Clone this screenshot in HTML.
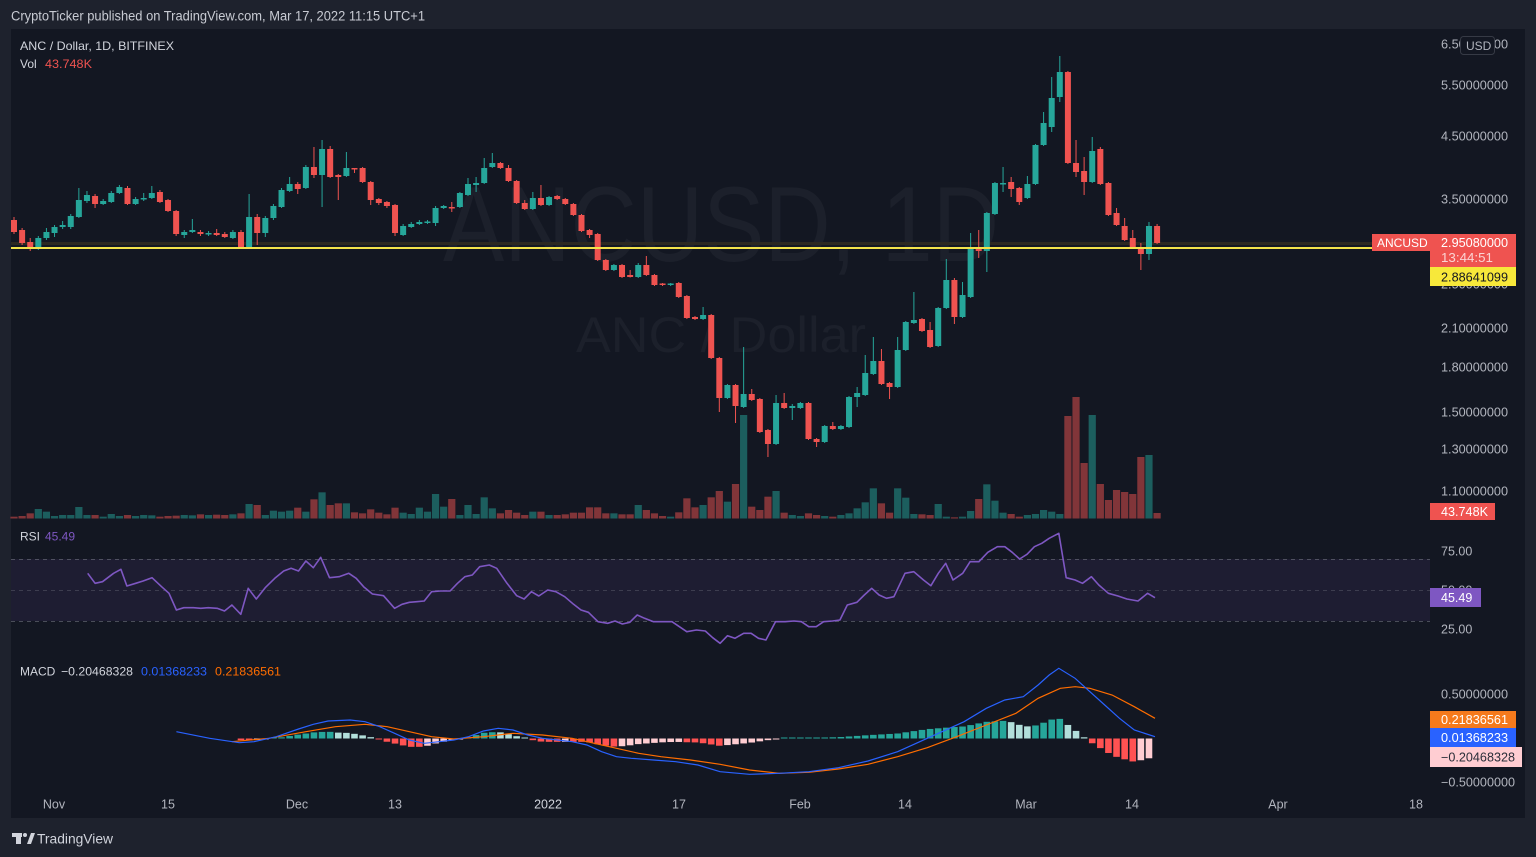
<!DOCTYPE html>
<html><head><meta charset="utf-8">
<style>
html,body{margin:0;padding:0;background:#1e222d;width:1536px;height:857px;overflow:hidden}
svg{display:block}
text{font-family:"Liberation Sans",Arial,sans-serif}
</style></head>
<body>
<svg id="s" width="1536" height="857" viewBox="0 0 1536 857" xmlns="http://www.w3.org/2000/svg">
<rect width="1536" height="857" fill="#1e222d"/>
<rect x="11" y="29" width="1514" height="789" fill="#131722"/>

<!-- watermark -->
<text x="443" y="261" font-size="107" fill="#1c202b" textLength="556" lengthAdjust="spacingAndGlyphs">ANCUSD, 1D</text>
<text x="576" y="352" font-size="50" fill="#1c202b" textLength="290" lengthAdjust="spacingAndGlyphs">ANC / Dollar</text>

<!-- RSI band -->
<rect x="11" y="559" width="1419" height="62" fill="#7e57c2" fill-opacity="0.1"/>
<line x1="11" x2="1430" y1="559.5" y2="559.5" stroke="#787b86" stroke-opacity="0.55" stroke-dasharray="4 4"/>
<line x1="11" x2="1430" y1="590.5" y2="590.5" stroke="#787b86" stroke-opacity="0.35" stroke-dasharray="4 4"/>
<line x1="11" x2="1430" y1="621.5" y2="621.5" stroke="#787b86" stroke-opacity="0.55" stroke-dasharray="4 4"/>

<g id="vol"></g>
<!-- last price line -->
<line x1="11" x2="1372" y1="243.5" y2="243.5" stroke="#2b2822" stroke-width="3"/>
<g id="cdl"></g>
<!-- yellow horizontal line -->
<line x1="11" x2="1372" y1="248" y2="248" stroke="#f2e24a" stroke-width="2"/>

<g id="rsi"></g>
<g id="macd"></g>

<!-- header -->
<text x="11" y="20.5" font-size="13.5" fill="#c8cbd3" textLength="414" lengthAdjust="spacingAndGlyphs">CryptoTicker published on TradingView.com, Mar 17, 2022 11:15 UTC+1</text>

<!-- legends -->
<text x="20" y="50" font-size="12" fill="#d1d4dc" textLength="154" lengthAdjust="spacingAndGlyphs">ANC / Dollar, 1D, BITFINEX</text>
<text x="20" y="68" font-size="12" fill="#d1d4dc">Vol</text>
<text x="45" y="68" font-size="12" fill="#ef5350" textLength="47" lengthAdjust="spacingAndGlyphs">43.748K</text>
<text x="20" y="540.5" font-size="12" fill="#d1d4dc">RSI</text>
<text x="45" y="540.5" font-size="12" fill="#7e57c2">45.49</text>
<text x="20" y="675.5" font-size="12" fill="#d1d4dc">MACD</text>
<text x="61" y="675.5" font-size="12" fill="#d1d4dc" textLength="72" lengthAdjust="spacingAndGlyphs">−0.20468328</text>
<text x="141" y="675.5" font-size="12" fill="#2962ff" textLength="66" lengthAdjust="spacingAndGlyphs">0.01368233</text>
<text x="215" y="675.5" font-size="12" fill="#ff6d00" textLength="66" lengthAdjust="spacingAndGlyphs">0.21836561</text>

<!-- price axis -->
<g font-size="12.5" fill="#b2b5be">
<text x="1441" y="48.5" textLength="67" lengthAdjust="spacingAndGlyphs">6.50000000</text>
<text x="1441" y="89.5" textLength="67" lengthAdjust="spacingAndGlyphs">5.50000000</text>
<text x="1441" y="140.5" textLength="67" lengthAdjust="spacingAndGlyphs">4.50000000</text>
<text x="1441" y="203.5" textLength="67" lengthAdjust="spacingAndGlyphs">3.50000000</text>
<text x="1441" y="288.5" textLength="67" lengthAdjust="spacingAndGlyphs">2.50000000</text>
<text x="1441" y="332.5" textLength="67" lengthAdjust="spacingAndGlyphs">2.10000000</text>
<text x="1441" y="371.5" textLength="67" lengthAdjust="spacingAndGlyphs">1.80000000</text>
<text x="1441" y="416.5" textLength="67" lengthAdjust="spacingAndGlyphs">1.50000000</text>
<text x="1441" y="453.5" textLength="67" lengthAdjust="spacingAndGlyphs">1.30000000</text>
<text x="1441" y="495.5" textLength="67" lengthAdjust="spacingAndGlyphs">1.10000000</text>
<text x="1441" y="555.5">75.00</text>
<text x="1441" y="594.5">50.00</text>
<text x="1441" y="633.5">25.00</text>
<text x="1441" y="698.5" textLength="67" lengthAdjust="spacingAndGlyphs">0.50000000</text>
<text x="1441" y="786.5" textLength="74" lengthAdjust="spacingAndGlyphs">−0.50000000</text>
</g>

<!-- USD box -->
<rect x="1460.5" y="36.5" width="34" height="18" rx="3" fill="#131722" stroke="#363a45"/>
<text x="1466" y="50" font-size="12" fill="#b2b5be">USD</text>

<!-- last price labels -->
<rect x="1372" y="234" width="58" height="17" fill="#ef5350"/>
<text x="1377" y="247" font-size="12" fill="#ffffff">ANCUSD</text>
<rect x="1430" y="234" width="86" height="33" fill="#ef5350"/>
<text x="1441" y="247" font-size="12.5" fill="#ffffff" textLength="67" lengthAdjust="spacingAndGlyphs">2.95080000</text>
<text x="1441" y="262" font-size="12.5" fill="#fbd3d2" textLength="52" lengthAdjust="spacingAndGlyphs">13:44:51</text>
<rect x="1430" y="267" width="86" height="19" fill="#f7e83a"/>
<text x="1441" y="281.5" font-size="12.5" fill="#131722" textLength="67" lengthAdjust="spacingAndGlyphs">2.88641099</text>

<rect x="1430" y="503" width="65" height="17" fill="#ef5350"/>
<text x="1441" y="516" font-size="12.5" fill="#ffffff" textLength="47" lengthAdjust="spacingAndGlyphs">43.748K</text>

<rect x="1430" y="588" width="51" height="19" fill="#7e57c2"/>
<text x="1441" y="602" font-size="12.5" fill="#ffffff">45.49</text>

<rect x="1430" y="711" width="86" height="17" fill="#f57a1c"/>
<text x="1441" y="724" font-size="12.5" fill="#ffffff" textLength="67" lengthAdjust="spacingAndGlyphs">0.21836561</text>
<rect x="1430" y="728" width="86" height="19" fill="#2962ff"/>
<text x="1441" y="742" font-size="12.5" fill="#ffffff" textLength="67" lengthAdjust="spacingAndGlyphs">0.01368233</text>
<rect x="1430" y="747" width="92" height="20" fill="#ffcdd2"/>
<text x="1441" y="761.5" font-size="12.5" fill="#2a2e39" textLength="74" lengthAdjust="spacingAndGlyphs">−0.20468328</text>

<!-- time axis -->
<g font-size="12.5" fill="#b2b5be" text-anchor="middle">
<text x="54" y="808.5">Nov</text>
<text x="168" y="808.5">15</text>
<text x="297" y="808.5">Dec</text>
<text x="395" y="808.5">13</text>
<text x="548" y="808.5" fill="#d1d4dc">2022</text>
<text x="679" y="808.5">17</text>
<text x="800" y="808.5">Feb</text>
<text x="905" y="808.5">14</text>
<text x="1026" y="808.5">Mar</text>
<text x="1132" y="808.5">14</text>
<text x="1278" y="808.5">Apr</text>
<text x="1416" y="808.5">18</text>
</g>

<!-- TradingView logo -->
<g fill="#d1d4dc">
<rect x="12" y="833" width="10" height="4"/>
<rect x="16" y="833" width="5" height="11"/>
<circle cx="25" cy="835" r="2"/>
<polygon points="27,844 31,833 35,833 31,844"/>
</g>
<text x="37" y="843.5" font-size="14" fill="#d1d4dc" textLength="76" lengthAdjust="spacingAndGlyphs">TradingView</text>
</svg>

<script>
(function(){
const ns="http://www.w3.org/2000/svg";
function el(tag,a,p){const e=document.createElementNS(ns,tag);for(const k in a)e.setAttribute(k,a[k]);p.appendChild(e);return e;}
const G="#26a69a",R="#ef5350";
const X=i=>14+8.107*i;
// [green?, bodyTop, bodyBot, wickTop, wickBot]
const C=[
[0,220,232,217,234],[0,230,243,228,245],[0,242,248,238,251],[1,238,248,236,250],[1,232,238,228,240],
[1,227,233,225,237],[1,225,227,221,229],[1,216,227,214,229],[1,200,217,188,218],[1,195,201,191,203],
[0,196,204,194,208],[1,201,204,199,205],[1,193,202,191,203],[1,187,193,185,194],[0,188,204,186,205],
[1,199,204,197,205],[1,198,199.5,193,201],[1,193,198,186,199],[0,192,202,190,203],[0,200,211,199,212],
[0,211,234,210,236],[1,232,235,230,238],[1,230,232,219,233],[0,232,234,230,236],[1,233,234.5,231,236],
[0,233,235,229,236],[0,234,237,232,238],[1,232,238,230,239],[0,232,247,230,248],[1,217,247,194,248],
[0,217,233,214,245],[1,218,233,216,237],[1,206,218,204,220],[1,190,207,188,208],[1,184,191,177,192],
[0,184,189,182,194],[1,167,188,165,189],[0,167,175,147,178],[1,149,175,140,207],[0,149,177,146,178],
[0,175,177,174,200],[1,168,176,152,177],[0,168,169.5,168,173],[0,168,182,167,183],[0,182,200,181,205],
[0,199,203,198,205],[0,202,206,201,208],[0,205,233,204,236],[1,226,235,224,236],[1,224,227,222,228],
[1,222,224,220,225],[1,221.5,223,220,224],[1,208,223,206,226],[1,206,208,205,209],[0,207,208.5,202,212],
[1,193,207,192,208],[1,184,195,178,196],[1,183,185,177,192],[1,168,183,158,184],[1,163,167,153,168],
[0,163,168,162,169],[0,168,181,165,182],[0,181,203,180,204],[0,203,209,200,210],[1,198,209,192,210],
[0,198,205,185,206],[1,197,205,196,206],[0,196,199,195,200],[0,199,204,198,205],[0,204,215,203,216],
[0,215,231,214,232],[0,230,235,229,238],[0,234,260,233,261],[0,260,270,259,271],[1,265,270,264,271],
[0,265,277,264,278],[0,275,277,270,277.5],[1,265,277,263,278],[0,265,275,256,276],[0,275,285,274,286],
[0,283.5,285,283,286],[1,283.5,285,283,286],[0,283,297,282,298],[0,296,318,295,319],[0,317,319,316,320],
[1,315,319,307,320],[0,315,358,314,359],[0,358,398,357,412],[1,385,398,384,399],[0,385,406,384,423],
[1,394,407,347,408],[0,394,400,389,401],[0,399,432,398,433],[0,430,444,429,457],[1,403,444,395,445],
[0,403,408,393,409],[1,406,408,404,420],[1,403,408,402,409],[0,403,439,402,440],[0,439,442,438,447],
[1,426,442,425,443],[0,426,429,422,430],[1,426,429,425,430],[1,397,427,396,428],[1,393,397,387,407],
[1,373,395,355,396],[1,361,374,337,375],[0,361,384,349,385],[0,383,387,382,399],[1,350,387,337,388],
[1,322,350,321,351],[1,320,323,292,324],[0,319,331,318,332],[0,330,347,322,348],[1,308,346,307,347],
[1,280,308,259,309],[0,280,317,278,324],[1,295,317,282,318],[1,249,297,233,298],[0,247,251,230,258],
[1,213,251,212,272],[1,183,214,182,215],[1,183,184,167,192],[0,182,189,177,197],[0,188,202,187,205],
[1,184,198,176,199],[1,145,184,144,185],[1,123,145,112,146],[1,98,127,77,132],[1,72,97,56,102],
[0,72,163,71,164],[0,163,172,140,177],[0,171,182,157,195],[1,151,182,137,183],[0,149,184,147,185],
[0,183,215,182,216],[0,213,225,208,226],[0,226,240,218,241],[0,238,247,230,248],[0,247,254,243,270],
[1,226,254,222,260],[0,226,243,224,244]
];
// volume tops in zoom units (real = 380 + v/3)
const V=[410,408,400,387,395,408,405,405,381,405,405,410,402,408,405,408,405,406,410,408,
407,405,406,403,405,404,405,403,400,372,375,405,392,395,392,383,395,358,337,375,
370,370,397,400,388,398,403,383,398,402,383,395,342,380,357,405,375,402,352,385,
400,390,398,405,395,395,405,405,403,398,398,382,382,400,400,403,403,375,390,400,
408,410,397,355,382,375,352,333,365,312,105,380,390,350,333,398,405,408,400,405,
408,410,405,400,385,367,325,370,398,325,353,402,403,405,372,410,412,410,393,357,
313,362,398,402,410,405,402,390,395,402,108,51,249,105,312,360,330,336,342,231,225,399];
const gv=document.getElementById('vol'),gc=document.getElementById('cdl');
const base=518.5;
C.forEach((c,i)=>{
  const x=X(i),col=c[0]?G:R;
  const vy=380+V[i]/3;
  el('rect',{x:(x-3.6).toFixed(2),y:vy.toFixed(2),width:7.2,height:Math.max(1,base-vy).toFixed(2),fill:col,'fill-opacity':0.5},gv);
  el('rect',{x:(x-0.5).toFixed(2),y:c[3],width:1,height:c[4]-c[3],fill:col},gc);
  el('rect',{x:(x-3).toFixed(2),y:c[1],width:6,height:Math.max(1.5,c[2]-c[1]),fill:col},gc);
});
function conv(arr){return arr.map(p=>[10+p[0]/1.352,525+p[1]/3]);}
const rsi=conv([[105,145],[115,175],[125,170],[140,145],[150,133],[158,183],[170,175],[180,168],[192,158],[205,185],[215,205],[225,255],[235,248],[248,248],[258,250],[268,248],[280,250],[290,258],[300,240],[312,268],[322,190],[333,222],[345,188],[358,160],[370,138],[380,130],[390,138],[400,108],[410,128],[420,97],[432,158],[445,155],[458,145],[468,160],[478,185],[490,207],[505,212],[520,250],[530,238],[540,232],[550,230],[560,228],[570,200],[582,198],[595,198],[605,175],[615,155],[625,150],[635,125],[648,120],[658,130],[672,175],[685,212],[695,222],[705,200],[715,213],[727,195],[738,200],[750,215],[762,238],[772,255],[782,262],[795,290],[808,295],[818,288],[828,297],[838,292],[848,270],[858,280],[870,290],[882,290],[895,290],[905,305],[915,320],[928,315],[940,318],[950,338],[960,355],[970,332],[980,340],[992,325],[1002,325],[1012,340],[1022,345],[1035,290],[1048,290],[1060,288],[1070,290],[1080,305],[1090,305],[1100,290],[1112,288],[1122,285],[1132,240],[1145,232],[1155,210],[1165,190],[1175,210],[1185,220],[1195,215],[1210,145],[1222,140],[1235,165],[1245,182],[1255,145],[1265,115],[1275,165],[1288,145],[1298,110],[1310,110],[1322,82],[1335,65],[1345,65],[1355,82],[1365,102],[1375,88],[1385,65],[1395,55],[1405,40],[1418,25],[1428,158],[1440,165],[1450,175],[1462,155],[1472,180],[1485,205],[1498,213],[1510,222],[1525,228],[1538,205],[1548,218]]);
const blue=conv([[225,620],[270,640],[310,653],[330,650],[360,635],[390,612],[410,598],[430,588],[460,585],[480,590],[500,605],[520,625],[540,645],[560,655],[580,650],[600,645],[620,635],[640,618],[660,610],[680,615],[700,630],[720,640],[740,645],[760,650],[780,660],[800,680],[820,695],[840,700],[870,705],[900,710],[930,720],[960,740],[1000,748],[1040,745],[1080,740],[1120,728],[1160,708],[1200,680],[1230,650],[1260,620],[1290,590],[1320,550],[1345,525],[1370,515],[1390,480],[1405,450],[1418,430],[1440,460],[1460,500],[1480,540],[1500,580],[1520,615],[1548,635]]);
const orange=conv([[300,650],[350,640],[400,620],[440,605],[480,598],[510,605],[540,620],[570,635],[600,642],[640,635],[680,625],[720,630],[760,640],[790,655],[820,670],[850,685],[880,695],[920,705],[960,718],[1000,735],[1040,745],[1080,742],[1120,732],[1160,718],[1200,695],[1240,668],[1280,635],[1320,600],[1360,565],[1390,520],[1420,490],[1440,485],[1460,490],[1490,510],[1520,545],[1548,580]]);
function pts(a){return a.map(p=>p[0].toFixed(1)+','+p[1].toFixed(1)).join(' ');}
function interp(a,x){if(x<a[0][0]||x>a[a.length-1][0])return null;for(let k=1;k<a.length;k++){if(x<=a[k][0]){const t=(x-a[k-1][0])/(a[k][0]-a[k-1][0]);return a[k-1][1]+t*(a[k][1]-a[k-1][1]);}}return null;}
el('polyline',{points:pts(rsi),fill:'none',stroke:'#7e57c2','stroke-width':1.6,'stroke-linejoin':'round'},document.getElementById('rsi'));
const gm=document.getElementById('macd');
let pv=null;const zero=738.5;
for(let i=28;i<C.length;i++){
  const x=X(i);const b=interp(blue,x),o=interp(orange,x);
  if(b===null||o===null)continue;
  const v=o-b; // positive => above
  let col;
  if(v>=0)col=(pv===null||v>=pv)?'#26a69a':'#b2dfdb';
  else col=(pv===null||v<=pv)?'#ff5252':'#ffcdd2';
  const h=Math.max(1,Math.abs(v));
  el('rect',{x:(x-3.3).toFixed(2),y:(v>=0?zero-h:zero).toFixed(2),width:6.6,height:h.toFixed(2),fill:col},gm);
  pv=v;
}
el('polyline',{points:pts(orange),fill:'none',stroke:'#ff6d00','stroke-width':1.2},gm);
el('polyline',{points:pts(blue),fill:'none',stroke:'#2962ff','stroke-width':1.2},gm);
})();
</script>
</body></html>
